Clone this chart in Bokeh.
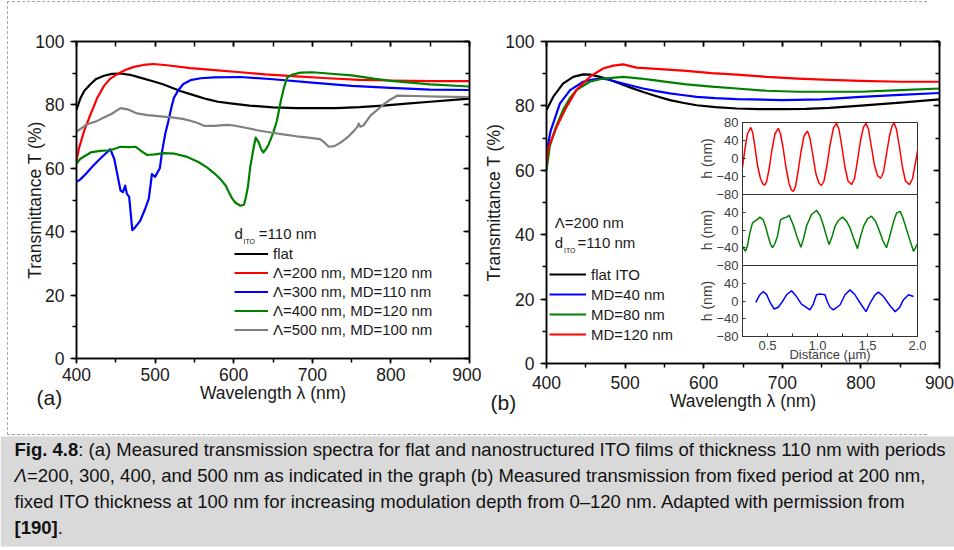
import math
from bokeh.plotting import figure
from bokeh.models import (Range1d, LinearAxis, SingleIntervalTicker, FixedTicker, Legend, LegendItem,
                          CustomJSTickFormatter, NumeralTickFormatter, ColumnDataSource)
from bokeh.layouts import row, column
from bokeh.core.properties import value
from bokeh.embed import file_html
from bokeh.resources import INLINE

# ---------------- panel (a): transmittance spectra, different periods ----------------
wl_a_flat = [400, 405, 410, 418, 425, 435, 445, 456, 468, 481, 495, 510, 532, 550, 566, 580, 596, 620,
             650, 680, 700, 730, 760, 790, 820, 850, 880, 900]
T_a_flat = [78.4, 82.1, 84.5, 86.6, 88.2, 89.2, 89.8, 89.9, 89.5, 88.6, 87.6, 86.5, 84.4, 83.0, 81.8, 81.0,
            80.5, 79.8, 79.2, 79.0, 79.0, 79.0, 79.3, 79.8, 80.4, 81.0, 81.6, 82.0]

wl_a_200 = [400, 403, 410, 418, 426, 435, 443, 452, 462, 473, 485, 498, 515, 545, 580, 609, 640, 680,
            720, 760, 800, 850, 900]
T_a_200 = [62.3, 66.2, 72.0, 77.1, 82.0, 86.0, 88.3, 89.7, 91.0, 92.0, 92.6, 92.9, 92.5, 91.6, 90.9,
           90.3, 89.6, 89.0, 88.4, 87.9, 87.7, 87.5, 87.5]

wl_a_300 = [400, 405, 413, 420, 430, 443, 448, 452, 456, 459, 462, 464, 467, 471, 475, 481, 487, 492,
            496, 500, 503, 506, 509, 513, 517, 521, 524, 530, 536, 545, 558, 575, 609, 650, 700, 750,
            800, 850, 900]
T_a_300 = [55.7, 56.5, 58.5, 60.5, 63.0, 66.0, 63.0, 58.0, 53.0, 52.5, 54.5, 52.0, 51.0, 40.5, 41.5,
           43.4, 47.0, 50.4, 58.2, 57.3, 58.7, 60.0, 65.5, 71.0, 75.0, 79.5, 82.3, 84.8, 86.6, 87.8,
           88.4, 88.7, 88.8, 88.1, 87.0, 86.0, 85.4, 84.8, 84.7]

wl_a_400 = [400, 405, 418, 430, 443, 456, 466, 475, 482, 490, 500, 511, 525, 541, 555, 566, 575, 583,
            590, 594, 598, 602, 608.6, 613, 615, 618, 621, 625, 628, 632, 635, 637.5, 641, 644.6, 650,
            655, 660, 664, 668, 675, 685, 700, 720, 750, 780, 800, 850, 900]
T_a_400 = [61.5, 63.0, 65.0, 65.5, 65.7, 66.8, 66.7, 66.8, 65.5, 64.2, 64.4, 64.8, 64.6, 63.6, 62.0,
           60.3, 58.5, 56.6, 54.5, 52.4, 50.5, 49.2, 48.2, 48.5, 50.3, 54.0, 60.3, 66.0, 69.7, 68.1,
           66.0, 65.0, 66.0, 67.6, 71.0, 75.0, 81.3, 85.5, 88.6, 89.6, 90.2, 90.3, 89.9, 89.3, 88.2,
           87.6, 86.5, 85.8]

wl_a_500 = [400, 413.6, 425, 435, 445, 456, 465, 477, 490, 498, 510, 524, 535, 545, 555, 562, 575, 592,
            600, 615, 630, 647, 665, 680, 695, 710, 716, 721, 728, 736, 745, 753, 757, 759, 761, 765,
            774, 783, 791, 800, 808, 830, 860, 900]
T_a_500 = [71.5, 73.9, 74.8, 76.0, 77.2, 79.0, 78.6, 77.3, 76.8, 76.6, 76.3, 76.0, 75.6, 75.0, 74.2,
           73.4, 73.4, 73.7, 73.5, 72.8, 72.0, 71.3, 70.6, 70.1, 69.7, 69.2, 68.0, 66.8, 67.0, 68.1,
           69.8, 71.8, 73.0, 74.1, 73.1, 73.5, 76.6, 78.5, 80.2, 81.8, 82.9, 82.8, 82.6, 82.5]

labels_a = ["flat", "\u039b=200 nm, MD=120 nm", "\u039b=300 nm, MD=110 nm",
            "\u039b=400 nm, MD=120 nm", "\u039b=500 nm, MD=100 nm"]

# ---------------- panel (b): transmittance spectra, different modulation depths ----------------
wl_b_flat = [400, 408.5, 421, 434, 446.7, 456, 468, 480, 493, 508, 523, 540, 557, 575, 591, 615, 642,
             670, 700, 730, 760, 800, 850, 900]
T_b_flat = [78.7, 82.8, 86.9, 89.0, 89.8, 89.7, 89.0, 88.1, 87.0, 85.6, 84.3, 83.0, 81.8, 80.9, 80.2,
            79.6, 79.2, 79.0, 79.0, 79.1, 79.4, 80.1, 81.0, 82.0]

wl_b_40 = [400, 405, 417, 430, 446.7, 458, 468, 478, 489, 505, 523, 540, 557, 575, 591, 615, 642, 700,
           750, 800, 850, 900]
T_b_40 = [65.2, 72.0, 80.7, 84.9, 87.5, 88.2, 88.5, 88.2, 87.5, 86.5, 85.4, 84.6, 83.9, 83.3, 82.8,
          82.4, 82.1, 81.8, 82.0, 82.8, 83.4, 84.0]

wl_b_80 = [400, 404, 412, 421, 430, 438, 455, 472, 497.7, 520, 536, 555, 578, 610, 642, 680, 720, 760,
           800, 850, 900]
T_b_80 = [60.0, 67.3, 73.5, 78.7, 82.5, 84.9, 87.5, 88.5, 89.0, 88.5, 88.0, 87.4, 86.7, 86.0, 85.4,
          84.7, 84.4, 84.4, 84.4, 84.9, 85.4]

wl_b_120 = [400, 402, 413, 425.5, 438, 455, 472, 485, 497.7, 514.6, 540, 578, 610, 642, 680, 720, 760,
            800, 850, 900]
T_b_120 = [62.1, 66.8, 73.5, 79.7, 84.9, 89.0, 91.6, 92.5, 92.9, 91.9, 91.5, 90.9, 90.2, 89.7, 89.0,
           88.5, 88.1, 87.8, 87.5, 87.5]

labels_b = ["flat ITO", "MD=40 nm", "MD=80 nm", "MD=120 nm"]

# ---------------- inset: height profiles h(distance) ----------------
d_red = [0.25, 0.275, 0.30, 0.333, 0.352, 0.375, 0.40, 0.43, 0.455, 0.473, 0.49, 0.515, 0.545, 0.575,
         0.608, 0.63, 0.655, 0.685, 0.715, 0.738, 0.758, 0.78, 0.805, 0.835, 0.865, 0.90, 0.925, 0.955,
         0.985, 1.015, 1.04, 1.065, 1.095, 1.125, 1.16, 1.19, 1.215, 1.245, 1.275, 1.305, 1.34, 1.37,
         1.40, 1.43, 1.46, 1.485, 1.51, 1.54, 1.57, 1.60, 1.632, 1.66, 1.69, 1.72, 1.745, 1.766, 1.79,
         1.82, 1.85, 1.88, 1.92, 1.95, 1.975, 2.0]
h_red = [-20, 22, 55, 69, 58, 25, -15, -45, -57, -59, -52, -25, 20, 55, 67, 55, 25, -20, -55, -70, -73,
         -62, -30, 15, 50, 61, 45, 5, -35, -55, -60, -50, -15, 30, 68, 78, 65, 25, -20, -50, -58, -45,
         -5, 40, 70, 78, 65, 25, -15, -38, -44, -30, 10, 50, 72, 79, 65, 25, -20, -50, -58, -45, -15, 17]

d_green = [0.25, 0.28, 0.30, 0.323, 0.35, 0.373, 0.40, 0.423, 0.457, 0.48, 0.507, 0.53, 0.55, 0.575,
           0.60, 0.63, 0.664, 0.69, 0.717, 0.757, 0.795, 0.834, 0.86, 0.89, 0.94, 0.99, 1.025, 1.057,
           1.085, 1.115, 1.145, 1.175, 1.21, 1.25, 1.29, 1.325, 1.36, 1.40, 1.43, 1.46, 1.50, 1.54,
           1.58, 1.62, 1.655, 1.69, 1.715, 1.74, 1.765, 1.79, 1.826, 1.85, 1.876, 1.92, 1.96, 2.0]
h_green = [-37, -48, -35, -7, 16, 20, 24, 29, 23, 8, -14, -32, -40, -30, -14, 23, 27, 29, 33, 12, -15,
           -39, -20, 9, 35, 44, 33, 12, -10, -33, -15, 8, 22, 29, 20, 5, -18, -42, -15, 8, 25, 31, 20,
           -3, -25, -40, -20, 1, 22, 38, 42, 30, 12, -20, -48, -31]

d_blue = [0.383, 0.423, 0.457, 0.49, 0.53, 0.567, 0.607, 0.65, 0.69, 0.74, 0.79, 0.84, 0.874, 0.924,
          0.958, 0.99, 1.025, 1.075, 1.098, 1.125, 1.158, 1.225, 1.275, 1.325, 1.375, 1.44, 1.485,
          1.525, 1.575, 1.61, 1.66, 1.72, 1.776, 1.82, 1.86, 1.91, 1.96]
h_blue = [-3, 14, 21, 15, -5, -18, -14, -1, 14, 23, 10, -7, -12, -20, -7, 14, 16, 14, -1, -14, -20, -9,
          14, 25, 14, -9, -24, -5, 14, 20, 10, -9, -24, -15, 3, 14, 10]

inset_ticks_top = [-80, -40, 0, 40, 80]
inset_ticks_lower = [-80, -40, 0, 40]
inset_x_ticks = [0.5, 1.0, 1.5, 2.0]

# ---------------- caption and panel tags ----------------
cap_bold_1 = "Fig. 4.8"
cap_line_1 = ": (a) Measured transmission spectra for flat and nanostructured ITO films of thickness 110 nm with periods"
cap_ital_2 = "\u039b"
cap_line_2 = "=200, 300, 400, and 500 nm as indicated in the graph (b) Measured transmission from fixed period at 200 nm,"
cap_line_3 = "fixed ITO thickness at 100 nm for increasing modulation depth from 0\u2013120 nm. Adapted with permission from"
cap_bold_4 = "[190]"
cap_line_4 = "."
panel_tags = ["(a)", "(b)"]

FONT = "Liberation Sans"
INK = "#1a1a1a"
BLANK = CustomJSTickFormatter(code="return ''")


def style_axis(ax, size="17.5px"):
    ax.axis_line_width = 1.5
    ax.axis_line_color = "black"
    ax.major_tick_line_width = 1.5
    ax.minor_tick_line_width = 1.5
    ax.major_tick_line_color = "black"
    ax.minor_tick_line_color = "black"
    ax.major_label_text_font = FONT
    ax.major_label_text_font_size = size
    ax.major_label_text_color = INK
    ax.axis_label_text_font = FONT
    ax.axis_label_text_font_size = size
    ax.axis_label_text_font_style = "normal"
    ax.axis_label_text_color = INK


def main_panel(fw, fh, bl, bt, br, bb, ylab_standoff, xtick_standoff, xlab_standoff):
    p = figure(frame_width=fw, frame_height=fh, x_range=Range1d(400, 900), y_range=Range1d(0, 100),
               min_border_left=bl, min_border_top=bt, min_border_right=br, min_border_bottom=bb,
               output_backend="svg", toolbar_location=None,
               background_fill_color="white", border_fill_color="white")
    p.outline_line_color = "black"
    p.outline_line_width = 1.5
    p.grid.visible = False
    xb = p.xaxis[0]
    yl = p.yaxis[0]
    xt = LinearAxis(formatter=BLANK)
    yr = LinearAxis(formatter=BLANK)
    p.add_layout(xt, "above")
    p.add_layout(yr, "right")
    for ax in (xb, yl, xt, yr):
        style_axis(ax)
    for ax in (xb, xt):
        ax.ticker = SingleIntervalTicker(interval=100, num_minor_ticks=2)
    for ax in (yl, yr):
        ax.ticker = SingleIntervalTicker(interval=20, num_minor_ticks=2)
    xb.major_tick_in, xb.major_tick_out, xb.minor_tick_in, xb.minor_tick_out = 0, 5, 0, 4
    yl.major_tick_in, yl.major_tick_out, yl.minor_tick_in, yl.minor_tick_out = 0, 6, 0, 4
    xt.major_tick_in, xt.major_tick_out, xt.minor_tick_in, xt.minor_tick_out = 5, 0, 5, 0
    yr.major_tick_in, yr.major_tick_out, yr.minor_tick_in, yr.minor_tick_out = 6, 0, 4, 0
    xt.major_label_standoff = 0
    yr.major_label_standoff = 0
    xb.major_label_standoff = xtick_standoff
    yl.major_label_standoff = 6
    xb.axis_label = "Wavelength \u03bb (nm)"
    yl.axis_label = "Transmittance T (%)"
    yl.axis_label_standoff = ylab_standoff
    xb.axis_label_standoff = xlab_standoff
    return p


def header_d(p, x_d, x_sub, x_rest, y, y_sub):
    p.text(x=[x_d], y=[y], text=["d"], text_font=value(FONT), text_font_size="15px",
           text_baseline="middle", text_color=INK)
    p.text(x=[x_sub], y=[y_sub], text=["ITO"], text_font=value(FONT), text_font_size="7px",
           text_baseline="middle", text_color=INK)
    p.text(x=[x_rest], y=[y], text=["=110 nm"], text_font=value(FONT), text_font_size="15px",
           text_baseline="middle", text_color=INK)


# ---------------- figure (a) ----------------
pa = main_panel(393, 317, 68, 39, 12, 76, -13, 4, -1)
series_a = [(wl_a_flat, T_a_flat, "#000000"), (wl_a_200, T_a_200, "#ff0000"),
            (wl_a_300, T_a_300, "#0000ff"), (wl_a_400, T_a_400, "#008000"),
            (wl_a_500, T_a_500, "#808080")]
rends_a = [pa.line(x, y, line_color=c, line_width=2.2, line_join="round") for x, y, c in series_a]
leg_a = Legend(items=[LegendItem(label=l, renderers=[r]) for l, r in zip(labels_a, rends_a)],
               location=(158, 19), padding=0, margin=0, spacing=0, border_line_color=None,
               background_fill_alpha=0, glyph_width=34, glyph_height=19, label_height=19,
               label_standoff=5, label_text_font=FONT, label_text_font_size="15px",
               label_text_color=INK)
pa.add_layout(leg_a)
header_d(pa, 601, 612.5, 632, 39.3, 37.0)

# ---------------- figure (b) ----------------
pb = main_panel(393, 322, 59, 39, 21, 71, -2, 7, -1)
series_b = [(wl_b_flat, T_b_flat, "#000000"), (wl_b_40, T_b_40, "#0000ff"),
            (wl_b_80, T_b_80, "#008000"), (wl_b_120, T_b_120, "#ff0000")]
rends_b = [pb.line(x, y, line_color=c, line_width=2.2, line_join="round") for x, y, c in series_b]
leg_b = Legend(items=[LegendItem(label=l, renderers=[r]) for l, r in zip(labels_b, rends_b)],
               location=(3, 19), padding=0, margin=0, spacing=0, border_line_color=None,
               background_fill_alpha=0, glyph_width=37, glyph_height=20, label_height=20,
               label_standoff=5, label_text_font=FONT, label_text_font_size="15px",
               label_text_color=INK)
pb.add_layout(leg_b)
pb.text(x=[410.6], y=[43.7], text=["\u039b=200 nm"], text_font=value(FONT), text_font_size="15px",
        text_baseline="middle", text_color=INK)
header_d(pb, 410.6, 422.3, 439.5, 37.6, 35.2)

# ---------------- inset: three stacked panels overlaid on figure (b) ----------------
GREY = "#404040"
inset_x = Range1d(0.25, 2.0)


def inset_panel(d, h, color, ticks, fh, bb, top_margin, show_x):
    p = figure(frame_width=175, frame_height=fh, x_range=inset_x, y_range=Range1d(-80, 80),
               min_border_left=48, min_border_right=9, min_border_top=10, min_border_bottom=bb,
               output_backend="svg", toolbar_location=None, margin=(top_margin, 0, 0, 0),
               x_axis_location="below" if show_x else None,
               background_fill_color="white", border_fill_color=None)
    p.outline_line_color = "#333333"
    p.outline_line_width = 1
    p.grid.visible = False
    axes = [p.yaxis[0]] + ([p.xaxis[0]] if show_x else [])
    for ax in axes:
        ax.axis_line_color = "#333333"
        ax.axis_line_width = 1
        ax.major_tick_line_color = "#333333"
        ax.minor_tick_line_color = "#333333"
        ax.major_tick_in, ax.major_tick_out, ax.minor_tick_in, ax.minor_tick_out = 3, 0, 3, 0
        ax.major_label_text_font = FONT
        ax.major_label_text_font_size = "13px"
        ax.major_label_text_color = GREY
        ax.axis_label_text_font = FONT
        ax.axis_label_text_font_size = "14px"
        ax.axis_label_text_font_style = "normal"
        ax.axis_label_text_color = GREY
        ax.major_label_standoff = 4
    yl = p.yaxis[0]
    yl.ticker = FixedTicker(ticks=ticks, minor_ticks=[])
    yl.axis_label = "h (nm)"
    yl.axis_label_standoff = -2
    if show_x:
        xa = p.xaxis[0]
        xa.ticker = FixedTicker(ticks=inset_x_ticks, minor_ticks=[0.25, 0.75, 1.25, 1.75])
        xa.formatter = NumeralTickFormatter(format="0.0")
        xa.axis_label = "Distance (\u00b5m)"
        xa.axis_label_text_font_size = "13px"
        xa.axis_label_standoff = -6
    p.line(x="d", y="h", source=ColumnDataSource(dict(d=d, h=h)), line_color=color, line_width=1.5)
    return p


pi_top = inset_panel(d_red, h_red, "#ff0000", inset_ticks_top, 72, 10, 0, False)
pi_mid = inset_panel(d_green, h_green, "#008000", inset_ticks_lower, 71, 10, -20, False)
pi_bot = inset_panel(d_blue, h_blue, "#0000ff", inset_ticks_lower, 71, 32, -20, True)
inset = column(pi_top, pi_mid, pi_bot, margin=(110, 0, 0, -266))

# ---------------- caption (its transparent top strip also carries the panel tags) ----------------
pc = figure(width=954, height=176, x_range=Range1d(0, 954), y_range=Range1d(176, 0),
            x_axis_type=None, y_axis_type=None, min_border=0, output_backend="svg",
            toolbar_location=None, background_fill_color=None, border_fill_color=None,
            margin=(-60, 0, 0, 0))
pc.outline_line_color = None
pc.grid.visible = False
pc.quad(left=[0], right=[954], top=[62], bottom=[172], fill_color="#d9d9d9", line_color=None)
pc.text(x=[36, 490], y=[22.7, 27.7], text=panel_tags, text_font=value(FONT), text_font_size="21px",
        text_baseline="middle", text_color=INK)
CS = "18.5px"
pc.text(x=[14, 14], y=[75, 153], text=[cap_bold_1, cap_bold_4], text_font=value(FONT),
        text_font_size=CS, text_font_style="bold", text_baseline="middle", text_color="#111111")
pc.text(x=[14], y=[101], text=[cap_ital_2], text_font=value(FONT), text_font_size=CS,
        text_font_style="italic", text_baseline="middle", text_color="#111111")
pc.text(x=[77.8, 26.5, 14, 57.2], y=[75, 101, 127, 153],
        text=[cap_line_1, cap_line_2, cap_line_3, cap_line_4],
        text_font=value(FONT), text_font_size=CS, text_baseline="middle", text_color="#111111")

top = row(pa, pb, inset, margin=(2, 0, 0, 8), styles={"outline": "1px dashed #a8a8a8"})
page = column(top, pc)

open("out.html", "w").write(file_html(page, INLINE))
